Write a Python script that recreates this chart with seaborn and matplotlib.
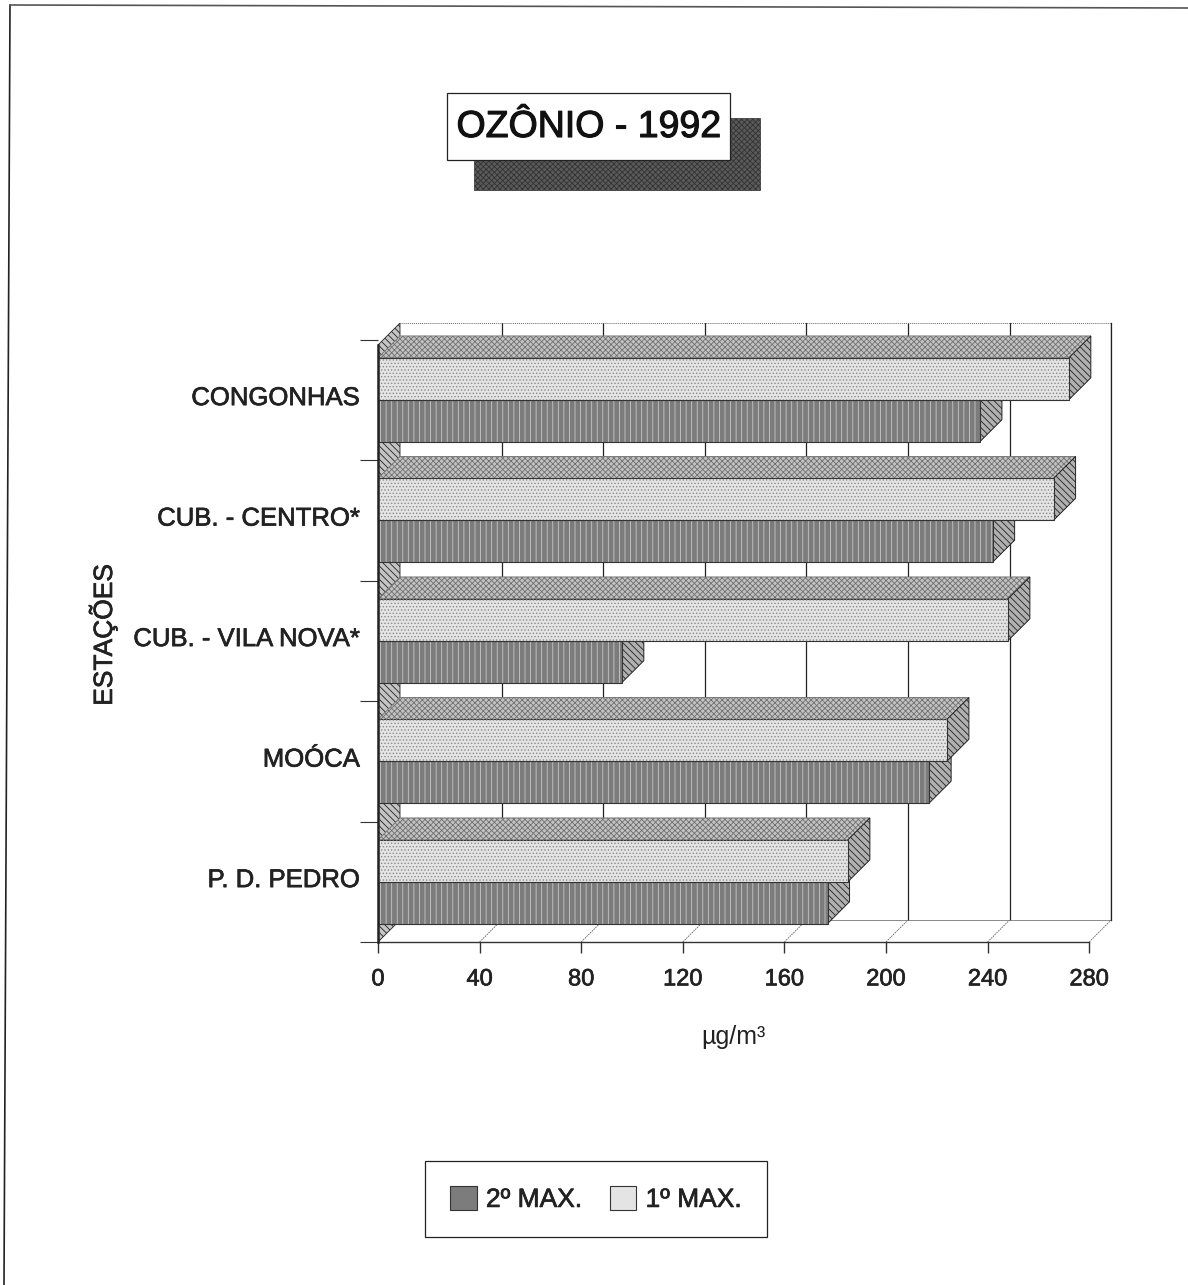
import pandas as pd
import seaborn as sns
import matplotlib.pyplot as plt
import matplotlib.patheffects as pe
from matplotlib.lines import Line2D
from matplotlib.patches import Polygon, Rectangle
from matplotlib.transforms import ScaledTranslation

# values
stations = ['CONGONHAS', 'CUB. - CENTRO*', 'CUB. - VILA NOVA*', 'MOÓCA', 'P. D. PEDRO']
first_max = [272, 266, 248, 224, 185]
second_max = [237, 242, 96, 217, 177]
x_ticks = [0, 40, 80, 120, 160, 200, 240, 280]

data = pd.DataFrame({'Estacao': stations * 2,
                     'Serie': ['1º MAX.'] * 5 + ['2º MAX.'] * 5,
                     'Valor': first_max + second_max})

sns.set_style('white')
plt.rcParams['font.family'] = ['Liberation Sans', 'DejaVu Sans']
plt.rcParams['hatch.linewidth'] = 0.6
text_color = '#222222'
heavy = [pe.withStroke(linewidth=0.5, foreground=text_color)]  # the scan thickens the type

W, H = 1188, 1285
fig = plt.figure(figsize=(W / 100, H / 100), dpi=100)
ax = fig.add_axes([378 / W, 1 - 942 / H, (1112 - 378) / W, (942 - 323) / H])

sns.barplot(data=data, y='Estacao', x='Valor', hue='Serie', hue_order=['1º MAX.', '2º MAX.'],
            palette={'1º MAX.': '#e4e4e4', '2º MAX.': '#7c7c7c'}, width=0.695, gap=0,
            saturation=1, edgecolor='#333333', linewidth=0.8, ax=ax, legend=False)

ax.set_xlim(0, 289)
ax.set_ylim(4.5, -0.637)

# 3D depth of the old chart, in data units
dx = 22 / 2.54
dy = 22 / 120.8
top_y = ax.get_ylim()[1]
bottom_y = ax.get_ylim()[0]

# left wall
ax.add_patch(Polygon([(0, bottom_y), (dx, bottom_y - dy), (dx, top_y), (0, top_y + dy)],
                     facecolor='#c4c4c4', edgecolor='#222222', hatch='\\\\\\\\\\', lw=0.6, zorder=1))
# back wall gridlines and floor lines
for v in x_ticks[1:]:
    ax.plot([v + dx, v + dx], [bottom_y - dy, top_y], color='#222222', lw=0.9, zorder=1.5)
    ax.plot([v, v + dx], [bottom_y, bottom_y - dy], color='#666666', lw=0.6, ls=(0, (2, 1)), zorder=1.5)
ax.plot([dx, 280 + dx], [top_y, top_y], color='#666666', lw=0.7, ls=(0, (1, 1)), zorder=1.5)
ax.plot([dx, 280 + dx], [bottom_y - dy, bottom_y - dy], color='#777777', lw=0.6, zorder=1.5)

# bars: faces, top and side
styles = [{'z': 4, 'front': '.....', 'front_col': '#8a8a8a'},
          {'z': 3, 'front': '|||', 'front_col': '#c8c8c8'}]
for container, st in zip(ax.containers, styles):
    for p in container:
        v = p.get_width()
        y0, y1 = p.get_y(), p.get_y() + p.get_height()
        p.set_zorder(st['z'])
        # hatch in its own colour, the bar keeps a dark outline
        ax.add_patch(Rectangle((0, y0), v, y1 - y0, facecolor='none', edgecolor=st['front_col'],
                               hatch=st['front'], lw=0, zorder=st['z'] + 0.1))
        ax.add_patch(Polygon([(0, y0), (v, y0), (v + dx, y0 - dy), (dx, y0 - dy)], facecolor='#c2c2c2',
                             edgecolor='#707070', hatch='xxxxxx', lw=0.6, zorder=st['z'] - 0.5))
        ax.add_patch(Polygon([(v, y0), (v + dx, y0 - dy), (v + dx, y1 - dy), (v, y1)], facecolor='#b0b0b0',
                             edgecolor='#222222', hatch='\\\\\\\\\\', lw=0.7, zorder=st['z'] - 0.5))

# axes
sns.despine(ax=ax, top=True, right=False)
ax.spines['right'].set_position(('data', 280 + dx))
ax.spines['right'].set_bounds(bottom_y - dy, top_y)
ax.spines['right'].set_linewidth(0.9)
ax.spines['right'].set_color('#222222')
ax.spines['left'].set_bounds(bottom_y, top_y + dy)
ax.spines['left'].set_linewidth(1.8)
ax.spines['left'].set_color('#222222')
ax.spines['left'].set_zorder(6)
ax.spines['bottom'].set_bounds(0, 280)
ax.spines['bottom'].set_linewidth(1.0)
ax.spines['bottom'].set_color('#333333')

ax.set_xticks(x_ticks)
ax.set_xticklabels([str(v) for v in x_ticks])
ax.set_yticks([i + 0.5 for i in range(-1, 5)], minor=True)
ax.tick_params(axis='y', which='major', length=0, pad=13, labelsize=18.5, labelcolor=text_color)
ax.tick_params(axis='y', which='minor', length=13, width=0.8, color='#333333', left=True)
ax.tick_params(axis='x', length=8, width=1, color='#333333', bottom=True, pad=11, labelsize=17, labelcolor=text_color)
ax.set_xlabel('')
ax.set_ylabel('')

# labels sit a little above the bar junction in the scan
label_shift = ScaledTranslation(0, 3 / 72, fig.dpi_scale_trans)
for label in ax.get_yticklabels():
    label.set_transform(label.get_transform() + label_shift)
    label.set_path_effects(heavy)
for label in ax.get_xticklabels():
    label.set_path_effects(heavy)

fig.text(733 / W, 1 - 1037 / H, 'µg/m³', ha='center', va='center', fontsize=18, color=text_color)
fig.text(103 / W, 1 - 635 / H, 'ESTAÇÕES', ha='center', va='center', rotation=90, fontsize=19,
         color=text_color, path_effects=heavy)

# title box with shadow
fig.patches.append(Rectangle((474 / W, 1 - 190 / H), 286 / W, 72 / H, transform=fig.transFigure,
                             facecolor='#5a5a5a', edgecolor='#333333', hatch='xxxxxx', lw=0.5, zorder=1))
fig.patches.append(Rectangle((447 / W, 1 - 160 / H), 283 / W, 67 / H, transform=fig.transFigure,
                             facecolor='white', edgecolor='#222222', lw=0.9, zorder=2))
fig.text(588.5 / W, 1 - 127 / H, 'OZÔNIO - 1992', ha='center', va='center', fontsize=27,
         color='#111111', zorder=3, path_effects=[pe.withStroke(linewidth=0.8, foreground='#111111')])

# page edge, only left and top show on the scan
fig.add_artist(Line2D([4 / W, 10 / W], [0, 1 - 5 / H], color='#222222', lw=1.2))
fig.add_artist(Line2D([10 / W, 1], [1 - 5 / H, 1 - 8 / H], color='#555555', lw=1.2))

# legend, 2nd series first like the original
leg = fig.legend([ax.containers[1], ax.containers[0]], ['2º MAX.', '1º MAX.'], loc='center',
                 bbox_to_anchor=(596 / W, 1 - 1199 / H), ncol=2, frameon=True, fancybox=False,
                 edgecolor='#222222', framealpha=1, fontsize=19, handlelength=1.0, handleheight=1.0,
                 borderpad=0.95, borderaxespad=0, columnspacing=1.05, handletextpad=0.35, labelcolor=text_color)
leg.get_frame().set_linewidth(0.9)
for label in leg.get_texts():
    label.set_path_effects(heavy)

fig.savefig('out.png', dpi=100)
